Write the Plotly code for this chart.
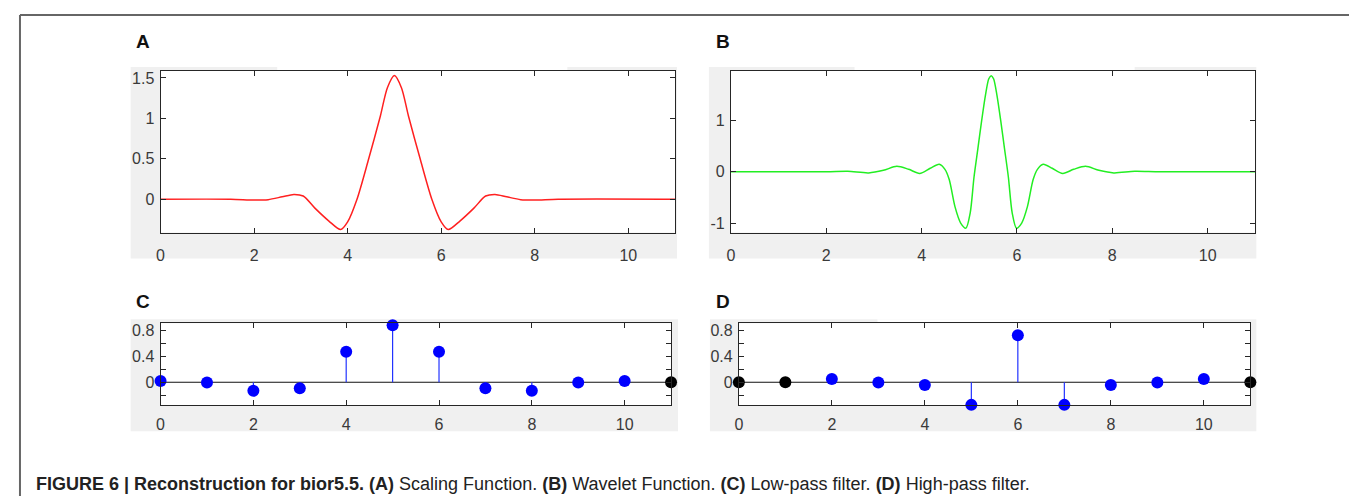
import plotly.graph_objects as go

W, H = 1357, 496

# ---------------- data ----------------
# (A) scaling function
A_x = [0, 1.5, 2.0, 2.3, 2.6, 2.85, 3.05, 3.3, 3.6, 3.85, 4.0, 4.2, 4.45, 4.7, 4.85, 5.0,
       5.15, 5.3, 5.55, 5.8, 6.0, 6.15, 6.4, 6.7, 6.95, 7.15, 7.4, 7.7, 8.0, 8.5, 11]
A_y = [0, 0, -0.01, -0.005, 0.03, 0.06, 0.04, -0.11, -0.27, -0.375, -0.28, 0.0, 0.5, 1.03, 1.38, 1.53,
       1.38, 1.03, 0.5, 0.0, -0.28, -0.375, -0.27, -0.11, 0.04, 0.06, 0.03, -0.005, -0.01, 0, 0]

# (B) wavelet function
B_x = [0, 2.0, 2.45, 2.89, 3.2, 3.48, 3.73, 3.96, 4.18, 4.37, 4.49, 4.58, 4.7, 4.82, 4.93,
       5.02, 5.1, 5.18, 5.26, 5.34, 5.41, 5.46, 5.51, 5.58, 5.66, 5.74, 5.82, 5.9,
       5.99, 6.10, 6.22, 6.34, 6.43, 6.55, 6.74, 6.96, 7.19, 7.44, 7.72, 8.03, 8.47, 9.0, 11]
B_y = [0, 0, 0.01, -0.02, 0.03, 0.11, 0.05, -0.03, 0.07, 0.15, 0.05, -0.15, -0.68, -1.0, -1.1,
       -0.8, -0.1, 0.45, 1.0, 1.5, 1.82, 1.88, 1.82, 1.5, 1.0, 0.45, -0.1, -0.8,
       -1.1, -1.0, -0.68, -0.15, 0.05, 0.15, 0.07, -0.03, 0.05, 0.11, 0.03, -0.02, 0.01, 0, 0]

# (C) low-pass and (D) high-pass reconstruction filters
taps = [0, 1, 2, 3, 4, 5, 6, 7, 8, 9, 10, 11]
C_vals = [0.02, -0.005, -0.133, -0.092, 0.47, 0.88, 0.47, -0.092, -0.133, -0.005, 0.02, 0]
D_vals = [0, 0, 0.051, -0.005, -0.041, -0.349, 0.723, -0.349, -0.041, -0.005, 0.051, 0]

x_ticks = [0, 2, 4, 6, 8, 10]
A_yticks = [0, 0.5, 1, 1.5]
A_yticktext = ["0", "0.5", "1", "1.5"]
B_yticks = [-1, 0, 1]
B_yticktext = ["-1", "0", "1"]
CD_yticks = [-0.2, 0, 0.2, 0.4, 0.6, 0.8]
CD_yticktext = ["", "0", "", "0.4", "", "0.8"]

# ---------------- layout helpers ----------------
def px_x(p):
    return p / W

def px_y(p):
    return 1 - p / H

panels = {
    # name: (left, right, top, bottom) in pixels
    "A": (149, 665, 62, 224),
    "B": (721, 1247, 62, 224),
    "C": (149, 661, 315, 397),
    "D": (729, 1242, 315, 397),
}
gray = {
    "A": (119, 667, 58, 250),
    "B": (699, 1248, 58, 250),
    "C": (119, 668, 311, 423),
    "D": (700, 1248, 311, 423),
}
letters = {"A": (131, 33), "B": (713, 33), "C": (131, 293), "D": (713, 293)}

fig = go.Figure()

AX = "#262626"
TICKC = "#3a3a3a"
FONT = "Liberation Sans, Arial, sans-serif"

def add_axes(i, name, yr, ytv, ytt, fs, xstand):
    l, r, t, b = panels[name]
    sx = "" if i == 1 else str(i)
    fig.update_layout(**{
        f"xaxis{sx}": dict(domain=[px_x(l), px_x(r)], range=[0, 11], anchor=f"y{sx}",
                           tickmode="array", tickvals=x_ticks, ticks="inside", ticklen=5,
                           tickcolor=AX, showline=True, linecolor=AX, linewidth=1, mirror="ticks",
                           showgrid=False, zeroline=False, tickfont=dict(size=fs, color=TICKC, family=FONT),
                           ticklabelstandoff=xstand),
        f"yaxis{sx}": dict(domain=[px_y(b), px_y(t)], range=yr, anchor=f"x{sx}",
                           tickmode="array", tickvals=ytv, ticktext=ytt, ticks="inside", ticklen=5,
                           tickcolor=AX, showline=True, linecolor=AX, linewidth=1, mirror="ticks",
                           showgrid=False, zeroline=False, tickfont=dict(size=fs, color=TICKC, family=FONT),
                           ticklabelstandoff=2),
    })

add_axes(1, "A", [-0.412, 1.588], A_yticks, A_yticktext, 16, 8)
add_axes(2, "B", [-1.186, 1.974], B_yticks, B_yticktext, 16, 8)
add_axes(3, "C", [-0.354, 0.908], CD_yticks, CD_yticktext, 16, 5)
add_axes(4, "D", [-0.354, 0.908], CD_yticks, CD_yticktext, 16, 5)

# curves
fig.add_trace(go.Scatter(x=A_x, y=A_y, mode="lines", line=dict(color="#ff2020", width=1.5, shape="spline", smoothing=0.8),
                         xaxis="x", yaxis="y", showlegend=False))
fig.add_trace(go.Scatter(x=B_x, y=B_y, mode="lines", line=dict(color="#22ee22", width=1.5, shape="spline", smoothing=0.8),
                         xaxis="x2", yaxis="y2", showlegend=False))

def stems(vals, xa, ya):
    sx, sy = [], []
    for n, v in zip(taps, vals):
        sx += [n, n, None]
        sy += [0, v, None]
    fig.add_trace(go.Scatter(x=[0, 11], y=[0, 0], mode="lines", line=dict(color="#111111", width=1.2),
                             xaxis=xa, yaxis=ya, showlegend=False, cliponaxis=False))
    fig.add_trace(go.Scatter(x=sx, y=sy, mode="lines", line=dict(color="#2233ff", width=1.2),
                             xaxis=xa, yaxis=ya, showlegend=False, cliponaxis=False))
    cols = ["#000000" if v == 0 else "#0000ff" for v in vals]
    fig.add_trace(go.Scatter(x=taps, y=vals, mode="markers", marker=dict(size=12, color=cols, line=dict(width=0)),
                             xaxis=xa, yaxis=ya, showlegend=False, cliponaxis=False))

stems(C_vals, "x3", "y3")
stems(D_vals, "x4", "y4")

shapes = []
# gray figure backgrounds + white axes areas
for k in ["A", "B", "C", "D"]:
    gl, gr, gt, gb = gray[k]
    shapes.append(dict(type="rect", xref="paper", yref="paper", x0=px_x(gl), x1=px_x(gr),
                       y0=px_y(gb), y1=px_y(gt), fillcolor="#f0f0f0", line=dict(width=0), layer="below"))
    l, r, t, b = panels[k]
    shapes.append(dict(type="rect", xref="paper", yref="paper", x0=px_x(l), x1=px_x(r),
                       y0=px_y(b), y1=px_y(t), fillcolor="#ffffff", line=dict(width=0), layer="below"))
# small white gaps in the top strip of the gray backgrounds
for (g0, g1, gt) in [(266, 557, 58), (845, 1126, 58), (868, 1101, 311)]:
    shapes.append(dict(type="rect", xref="paper", yref="paper", x0=px_x(g0), x1=px_x(g1),
                       y0=px_y(gt + 3.5), y1=px_y(gt), fillcolor="#ffffff", line=dict(width=0), layer="below"))
# outer frame
FR = "#666666"
shapes.append(dict(type="line", xref="paper", yref="paper", x0=px_x(8), x1=px_x(8), y0=0, y1=px_y(6), line=dict(color=FR, width=2)))
shapes.append(dict(type="line", xref="paper", yref="paper", x0=px_x(8), x1=px_x(1355), y0=px_y(6), y1=px_y(6), line=dict(color=FR, width=2)))
shapes.append(dict(type="line", xref="paper", yref="paper", x0=px_x(1355), x1=px_x(1355), y0=0, y1=px_y(6), line=dict(color=FR, width=2)))

annotations = []
for k, (lx, ly) in letters.items():
    annotations.append(dict(text=f"<b>{k}</b>", x=px_x(lx), y=px_y(ly), xref="paper", yref="paper",
                            showarrow=False, xanchor="center", yanchor="middle",
                            font=dict(size=19, color="#111111", family=FONT)))
caption = ("<b>FIGURE 6 | Reconstruction for bior5.5. (A)</b> Scaling Function. <b>(B)</b> Wavelet Function. "
           "<b>(C)</b> Low-pass filter. <b>(D)</b> High-pass filter.")
annotations.append(dict(text=caption, x=px_x(22), y=px_y(476), xref="paper", yref="paper", showarrow=False,
                        xanchor="left", yanchor="middle", font=dict(size=18, color="#222222", family=FONT)))

fig.update_layout(width=W, height=H, margin=dict(l=0, r=0, t=0, b=0),
                  paper_bgcolor="white", plot_bgcolor="rgba(0,0,0,0)",
                  shapes=shapes, annotations=annotations, showlegend=False)

fig.write_html("out.html")
